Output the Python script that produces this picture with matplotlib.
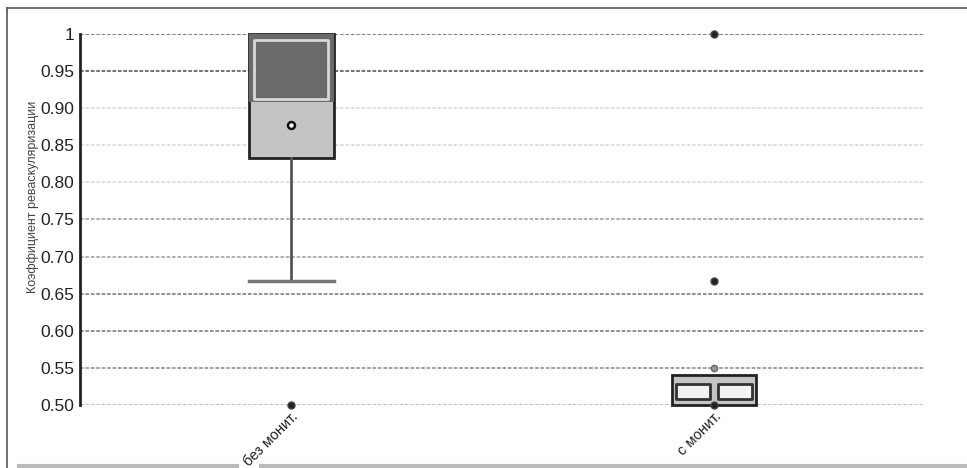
import matplotlib.pyplot as plt
from matplotlib.lines import Line2D

# data
groups = ["без монит.", "с монит."]
q1 = [0.833, 0.500]
med = [0.908, 0.520]
q3 = [1.000, 0.540]
whis_lo = [0.667, 0.500]
whis_hi = [1.000, 0.540]
means = [0.877, None]
fliers = [[0.50], [0.50, 0.667, 1.00]]
small_points = [None, 0.55]
y_ticks = [0.50, 0.55, 0.60, 0.65, 0.70, 0.75, 0.80, 0.85, 0.90, 0.95, 1.00]
y_labels = ["0.50", "0.55", "0.60", "0.65", "0.70", "0.75", "0.80", "0.85", "0.90", "0.95", "1"]
grid_shade = ["#bbbbbb", "#999999", "#888888", "#888888", "#aaaaaa", "#aaaaaa",
              "#dddddd", "#dddddd", "#dddddd", "#666666", "#777777"]

plt.rcParams["font.family"] = ["Liberation Sans", "DejaVu Sans"]

fig = plt.figure(figsize=(9.67, 4.68), dpi=100)
ax = fig.add_axes([0.0827, 0.1346, 0.874, 0.7928])

stats = []
for i in range(len(groups)):
    stats.append({"q1": q1[i], "med": med[i], "q3": q3[i],
                  "whislo": whis_lo[i], "whishi": whis_hi[i],
                  "fliers": fliers[i], "label": groups[i]})

pos = list(range(len(groups)))
bp = ax.bxp(stats, positions=pos, widths=0.2, patch_artist=True,
            showfliers=True, zorder=3,
            boxprops=dict(facecolor="#c4c4c4", edgecolor="#222222", linewidth=2),
            medianprops=dict(color="none"),
            whiskerprops=dict(color="#555555", linewidth=2),
            capprops=dict(color="#777777", linewidth=2.5),
            flierprops=dict(marker="o", markersize=5, markerfacecolor="#222222",
                            markeredgecolor="#444444"),
            capwidths=0.2)
for b in bp["boxes"]:
    b.set_clip_on(False)
for f in bp["fliers"]:
    f.set_clip_on(False)
# only the lower cap of the first box is visible
for k, c in enumerate(bp["caps"]):
    if k != 0:
        c.set_visible(False)

# darker upper part of first box (median to q3)
ax.fill_between([pos[0] - 0.1, pos[0] + 0.1], med[0], q3[0],
                color="#6a6a6a", zorder=4, linewidth=0)
ax.fill_between([pos[0] - 0.088, pos[0] + 0.088], med[0] + 0.004, q3[0] - 0.008,
                facecolor="none", edgecolor="#d8d8d8", linewidth=2, zorder=4)
# inner panels of second box
ax.fill_between([pos[1] - 0.09, pos[1] - 0.01], q1[1] + 0.008, q3[1] - 0.012,
                color="#f2f2f2", edgecolor="#333333", linewidth=2, zorder=4)
ax.fill_between([pos[1] + 0.01, pos[1] + 0.09], q1[1] + 0.008, q3[1] - 0.012,
                color="#f2f2f2", edgecolor="#333333", linewidth=2, zorder=4)

# mean marker
ax.plot([pos[0]], [means[0]], marker="o", markersize=5, markerfacecolor="white",
        markeredgecolor="#111111", markeredgewidth=1.8, zorder=6)
# small grey point above second box
ax.plot([pos[1]], [small_points[1]], marker="o", markersize=4.5, markerfacecolor="#999999",
        markeredgecolor="#666666", zorder=6)

ax.set_xlim(-0.5, 1.5)
ax.set_ylim(0.5, 1.0)
ax.set_yticks(y_ticks)
ax.set_yticklabels(y_labels, fontsize=12.5, color="#222222")
ax.set_xticks(pos)
ax.set_xticklabels(groups, rotation=45, ha="right", rotation_mode="anchor",
                   fontsize=10.5, color="#222222")
ax.tick_params(axis="y", length=0, pad=4)
ax.tick_params(axis="x", length=0, pad=3)
ax.set_ylabel("Коэффициент реваскуляризации", fontsize=9, color="#444444")
ax.yaxis.set_label_coords(-0.048, 0.56)

ax.grid(axis="y", linestyle=(0, (2, 1)), linewidth=1.3, zorder=0)
for gl, c in zip(ax.yaxis.get_gridlines(), grid_shade):
    gl.set_color(c)

for s in ["top", "right", "bottom"]:
    ax.spines[s].set_visible(False)
ax.spines["left"].set_color("#222222")
ax.spines["left"].set_linewidth(2)

# outer frame of the scanned figure
fig.add_artist(Line2D([0.007, 1.0], [0.983, 0.983], color="#555555", linewidth=1.2))
fig.add_artist(Line2D([0.007, 0.007], [0.0, 0.983], color="#555555", linewidth=1.2))
fig.add_artist(Line2D([0.02, 0.245], [0.004, 0.004], color="#bbbbbb", linewidth=3))
fig.add_artist(Line2D([0.27, 1.0], [0.004, 0.004], color="#bbbbbb", linewidth=3))

fig.savefig("out.png", dpi=100)
